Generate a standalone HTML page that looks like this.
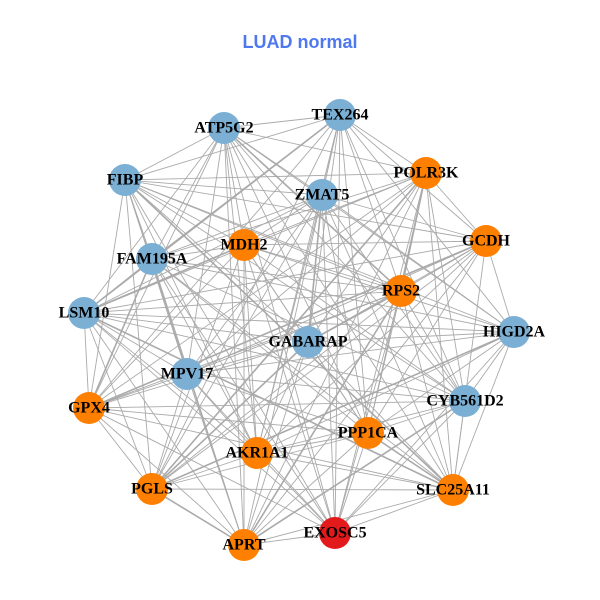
<!DOCTYPE html>
<html><head><meta charset="utf-8"><style>
html,body{margin:0;padding:0;background:#fff;}
svg{display:block;}
.l{font-family:"Liberation Serif",serif;font-weight:bold;font-size:16px;fill:#000;text-anchor:middle;dominant-baseline:central;}
</style></head><body>
<svg id="s" width="600" height="600" viewBox="0 0 600 600">
<rect width="600" height="600" fill="#fff"/>
<text x="300" y="42" text-anchor="middle" dominant-baseline="central" style="font-family:'Liberation Sans',sans-serif;font-weight:bold;font-size:18px;fill:#4f78ee">LUAD normal</text>
<g id="edges" stroke="#aaaaaa" stroke-width="0.9" fill="none"></g>
<g id="nodes">
<circle cx="340" cy="115" r="16" fill="#7bafd4"/>
<circle cx="224" cy="128" r="16" fill="#7bafd4"/>
<circle cx="426" cy="173" r="16" fill="#ff7f00"/>
<circle cx="125" cy="180" r="16" fill="#7bafd4"/>
<circle cx="322" cy="195" r="16" fill="#7bafd4"/>
<circle cx="486" cy="241" r="16" fill="#ff7f00"/>
<circle cx="244" cy="245" r="16" fill="#ff7f00"/>
<circle cx="152" cy="259" r="16" fill="#7bafd4"/>
<circle cx="401" cy="291" r="16" fill="#ff7f00"/>
<circle cx="84" cy="313" r="16" fill="#7bafd4"/>
<circle cx="514" cy="332" r="16" fill="#7bafd4"/>
<circle cx="308" cy="342" r="16" fill="#7bafd4"/>
<circle cx="187" cy="374" r="16" fill="#7bafd4"/>
<circle cx="465" cy="401" r="16" fill="#7bafd4"/>
<circle cx="89" cy="408" r="16" fill="#ff7f00"/>
<circle cx="368" cy="433" r="16" fill="#ff7f00"/>
<circle cx="257" cy="453" r="16" fill="#ff7f00"/>
<circle cx="152" cy="489" r="16" fill="#ff7f00"/>
<circle cx="453" cy="490" r="16" fill="#ff7f00"/>
<circle cx="335" cy="533" r="16" fill="#e31a1c"/>
<circle cx="244" cy="545" r="16" fill="#ff7f00"/>
</g>
<g>
<text class="l" x="340" y="115">TEX264</text>
<text class="l" x="224" y="128">ATP5G2</text>
<text class="l" x="426" y="173">POLR3K</text>
<text class="l" x="125" y="180">FIBP</text>
<text class="l" x="322" y="195">ZMAT5</text>
<text class="l" x="486" y="241">GCDH</text>
<text class="l" x="244" y="245">MDH2</text>
<text class="l" x="152" y="259">FAM195A</text>
<text class="l" x="401" y="291">RPS2</text>
<text class="l" x="84" y="313">LSM10</text>
<text class="l" x="514" y="332">HIGD2A</text>
<text class="l" x="308" y="342">GABARAP</text>
<text class="l" x="187" y="374">MPV17</text>
<text class="l" x="465" y="401">CYB561D2</text>
<text class="l" x="89" y="408">GPX4</text>
<text class="l" x="368" y="433">PPP1CA</text>
<text class="l" x="257" y="453">AKR1A1</text>
<text class="l" x="152" y="489">PGLS</text>
<text class="l" x="453" y="490">SLC25A11</text>
<text class="l" x="335" y="533">EXOSC5</text>
<text class="l" x="244" y="545">APRT</text>
</g>
</svg>
<script>
var cs=document.querySelectorAll('#nodes circle'),p=[];
cs.forEach(function(c){p.push([+c.getAttribute('cx'),+c.getAttribute('cy')]);});
var g=document.getElementById('edges'),ns='http://www.w3.org/2000/svg',k=0;
for(var i=0;i<p.length;i++)for(var j=i+1;j<p.length;j++){k++;
if((i*7+j*13)%6===0)continue;
var l=document.createElementNS(ns,'line');
l.setAttribute('x1',p[i][0]);l.setAttribute('y1',p[i][1]);
l.setAttribute('x2',p[j][0]);l.setAttribute('y2',p[j][1]);
if(k%9===0)l.setAttribute('stroke-width','1.6');
g.appendChild(l);}
</script>
</body></html>
